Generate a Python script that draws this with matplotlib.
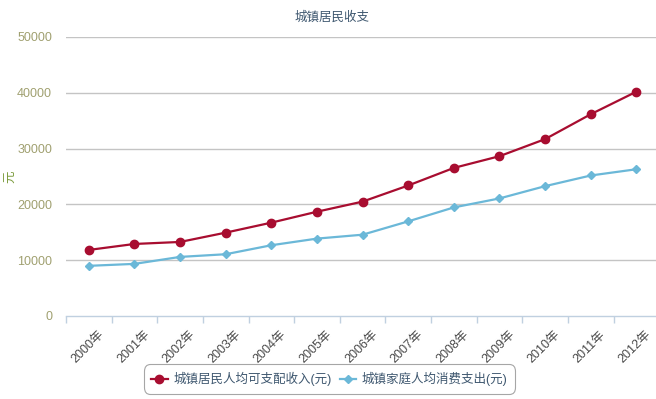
import matplotlib
matplotlib.use("Agg")
import matplotlib.pyplot as plt
from matplotlib.ticker import FixedLocator
from matplotlib.transforms import ScaledTranslation

plt.rcParams['font.family'] = ['Liberation Sans', 'Noto Sans CJK SC', 'DejaVu Sans']

years = ['2000年', '2001年', '2002年', '2003年', '2004年', '2005年', '2006年',
         '2007年', '2008年', '2009年', '2010年', '2011年', '2012年']
income = [11840, 12910, 13270, 14940, 16730, 18690, 20500,
          23390, 26540, 28640, 31700, 36160, 40200]
spending = [8990, 9340, 10590, 11070, 12680, 13870, 14570,
            16960, 19460, 21070, 23270, 25180, 26300]
income_label = '城镇居民人均可支配收入(元)'
spending_label = '城镇家庭人均消费支出(元)'
title = '城镇居民收支'
ylabel = '元'
yticks = [0, 10000, 20000, 30000, 40000, 50000]

W, H = 656, 399
fig = plt.figure(figsize=(W / 100, H / 100), dpi=100)
left, right, top, bottom = 66, 656, 37, 316
ax = fig.add_axes([left / W, (H - bottom) / H, (right - left) / W, (bottom - top) / H])

x = list(range(len(years)))
red = '#A80D30'
blue = '#6BB8D8'
ax.plot(x, income, color=red, lw=1.6, marker='o', ms=6, label=income_label, zorder=3, clip_on=False)
ax.plot(x, spending, color=blue, lw=1.6, marker='D', ms=4.5, label=spending_label, zorder=3, clip_on=False)

ax.set_xlim(-0.5, 12.43)
ax.set_ylim(0, 50000)

for s in ['top', 'right', 'left']:
    ax.spines[s].set_visible(False)
ax.spines['bottom'].set_color('#C0D0E0')
ax.spines['bottom'].set_linewidth(1)

ax.set_yticks(yticks)
ax.set_yticklabels([str(v) for v in yticks])
ax.tick_params(axis='y', length=0, pad=10, labelsize=9, labelcolor='#A0A070')
for v in yticks[1:]:
    ax.axhline(v, color='#C4C4C4', lw=1, zorder=1)

ax.set_xticks(x)
ax.set_xticklabels(years, rotation=45, ha='right', va='top', rotation_mode='anchor')
ax.tick_params(axis='x', length=0, labelsize=9, labelcolor='#4A4A4A', pad=9)
shift = ScaledTranslation(9 / 100, 0, fig.dpi_scale_trans)
for lbl in ax.get_xticklabels():
    lbl.set_transform(lbl.get_transform() + shift)
# boundary tick marks
ax.xaxis.set_minor_locator(FixedLocator([i - 0.5 for i in range(len(years))]))
ax.tick_params(axis='x', which='minor', length=5, color='#C0D0E0', width=1)

ax.set_ylabel(ylabel, color='#7A9A3A', fontsize=9)
ax.yaxis.set_label_coords(-49 / (right - left), 0.5)

fig.text(332 / W, 1 - 18 / H, title, ha='center', va='center', fontsize=9, color='#3E576F')

leg = ax.legend(loc='center', bbox_to_anchor=(329.5 / W, 20 / H), bbox_transform=fig.transFigure,
                ncol=2, frameon=True, fontsize=9, handlelength=1.3, handletextpad=0.5,
                columnspacing=0.6, borderpad=0.4, fancybox=True)
leg.get_frame().set_edgecolor('#909090')
leg.get_frame().set_linewidth(0.8)
leg.get_frame().set_boxstyle('round,pad=0.2,rounding_size=0.5')
for t in leg.get_texts():
    t.set_color('#3E576F')

fig.savefig('out.png', dpi=100)
